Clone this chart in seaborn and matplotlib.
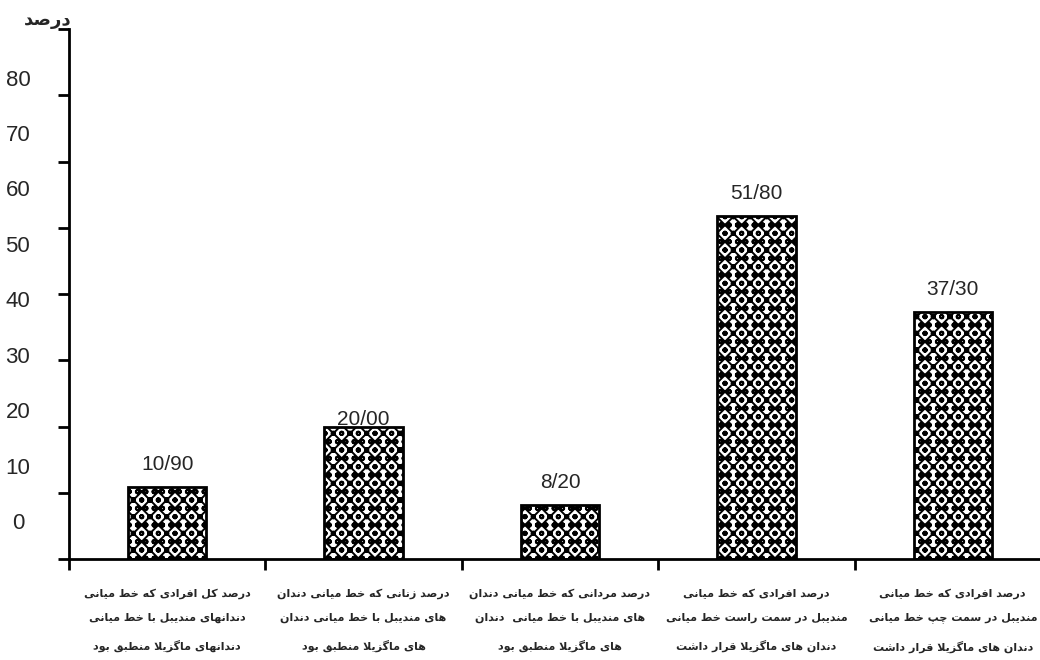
import numpy as np
import pandas as pd
import matplotlib
matplotlib.use("Agg")
from matplotlib import pyplot as plt
import matplotlib.transforms as mtransforms
import seaborn as sns

# داده ها
categories = [
    "درصد کل افرادی که خط میانی\nدندانهای مندیبل با خط میانی\nدندانهای ماگزیلا منطبق بود",
    "درصد زنانی که خط میانی دندان\nهای مندیبل با خط میانی دندان\nهای ماگزیلا منطبق بود",
    "درصد مردانی که خط میانی دندان\nهای مندیبل با خط میانی  دندان\nهای ماگزیلا منطبق بود",
    "درصد افرادی که خط میانی\nمندیبل در سمت راست خط میانی\nدندان های ماگزیلا قرار داشت",
    "درصد افرادی که خط میانی\nمندیبل در سمت چپ خط میانی\nدندان های ماگزیلا قرار داشت",
]
values = [10.9, 20.0, 8.2, 51.8, 37.3]
y_ticks = [0, 10, 20, 30, 40, 50, 60, 70, 80]
y_title = "درصد"

# arabic shaping (no reshaper lib in sandbox)
FORMS = {
    "ا": (0xFE8D, 0xFE8E), "د": (0xFEA9, 0xFEAA), "ر": (0xFEAD, 0xFEAE),
    "ز": (0xFEAF, 0xFEB0), "و": (0xFEED, 0xFEEE),
    "ب": (0xFE8F, 0xFE90, 0xFE91, 0xFE92), "پ": (0xFB56, 0xFB57, 0xFB58, 0xFB59),
    "ت": (0xFE95, 0xFE96, 0xFE97, 0xFE98), "ج": (0xFE9D, 0xFE9E, 0xFE9F, 0xFEA0),
    "چ": (0xFB7A, 0xFB7B, 0xFB7C, 0xFB7D), "خ": (0xFEA5, 0xFEA6, 0xFEA7, 0xFEA8),
    "س": (0xFEB1, 0xFEB2, 0xFEB3, 0xFEB4), "ش": (0xFEB5, 0xFEB6, 0xFEB7, 0xFEB8),
    "ص": (0xFEB9, 0xFEBA, 0xFEBB, 0xFEBC), "ط": (0xFEC1, 0xFEC2, 0xFEC3, 0xFEC4),
    "ف": (0xFED1, 0xFED2, 0xFED3, 0xFED4), "ق": (0xFED5, 0xFED6, 0xFED7, 0xFED8),
    "ک": (0xFB8E, 0xFB8F, 0xFB90, 0xFB91), "گ": (0xFB92, 0xFB93, 0xFB94, 0xFB95),
    "ل": (0xFEDD, 0xFEDE, 0xFEDF, 0xFEE0), "م": (0xFEE1, 0xFEE2, 0xFEE3, 0xFEE4),
    "ن": (0xFEE5, 0xFEE6, 0xFEE7, 0xFEE8), "ه": (0xFEE9, 0xFEEA, 0xFEEB, 0xFEEC),
    "ی": (0xFBFC, 0xFBFD, 0xFBFE, 0xFBFF),
}


def shape_line(s):
    out = []
    i = 0
    while i < len(s):
        c = s[i]
        if c not in FORMS:
            out.append(c)
            i += 1
            continue
        prev = s[i - 1] if i > 0 else ""
        nxt = s[i + 1] if i + 1 < len(s) else ""
        join_prev = prev in FORMS and len(FORMS[prev]) == 4
        if c == "ل" and nxt == "ا":
            out.append(chr(0xFEFC if join_prev else 0xFEFB))
            i += 2
            continue
        f = FORMS[c]
        join_next = len(f) == 4 and nxt in FORMS
        if join_prev and join_next:
            g = f[3]
        elif join_prev:
            g = f[1]
        elif join_next:
            g = f[2]
        else:
            g = f[0]
        out.append(chr(g))
        i += 1
    return "".join(out[::-1])


def shape(s):
    return "\n".join(shape_line(l) for l in s.split("\n"))


df = pd.DataFrame({"cat": range(len(values)), "val": values})

sns.set_style("white")
plt.rcParams["font.family"] = ["DejaVu Sans"]
plt.rcParams["hatch.linewidth"] = 1.4
num_font = ["Liberation Sans", "DejaVu Sans"]

fig = plt.figure(figsize=(10.4, 6.6), dpi=100)
ax = fig.add_axes([69 / 1040, 1 - 559 / 660, 982 / 1040, 530 / 660])

sns.barplot(data=df, x="cat", y="val", color="white", edgecolor="black",
            linewidth=2, width=0.4, hatch="xxoo", ax=ax, native_scale=True)

ax.set_xlim(-0.5, 4.5)
ax.set_ylim(0, 80)
for s in ["top", "right"]:
    ax.spines[s].set_visible(False)
for s in ["left", "bottom"]:
    ax.spines[s].set_linewidth(2)
    ax.spines[s].set_color("black")

# major ticks: no labels
ax.set_yticks(y_ticks)
ax.set_yticklabels([])
ax.set_xticks(np.arange(-0.5, 5, 1))
ax.set_xticklabels([])
ax.tick_params(axis="both", which="major", direction="out", length=8, width=2,
               color="black", left=True, bottom=True)

# category labels on minor ticks
ax.set_xticks(range(len(categories)), minor=True)
ax.set_xticklabels([shape(c) for c in categories], minor=True,
                   fontsize=8.0, fontweight="bold", linespacing=2.7)
ax.tick_params(axis="x", which="minor", length=0, pad=21)
ax.set_xlabel("")
ax.set_ylabel("")

# y tick labels sit between the ticks in the original
trans = mtransforms.blended_transform_factory(ax.transAxes, ax.transData)
for v in y_ticks:
    ax.text(-0.052, 5.3 + v * 0.8375, str(v), transform=trans, ha="center",
            va="center", fontsize=16, family=num_font)

ax.text(-0.022, 81.4, shape(y_title), transform=trans, ha="center", va="center",
        fontsize=13, fontweight="bold")

# value labels
pads = [9, -2, 9, 9, 9]
for i, v in enumerate(values):
    ax.annotate(f"{v:.2f}".replace(".", "/"), (i, v), xytext=(0, pads[i]),
                textcoords="offset points", ha="center", va="bottom",
                fontsize=15, family=num_font, annotation_clip=False)

fig.savefig("out.png", dpi=100)
